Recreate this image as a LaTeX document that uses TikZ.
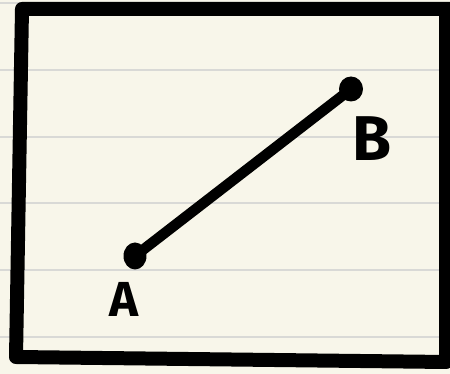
\documentclass[tikz,border=0pt]{standalone}
\usepackage{fontspec}
\setmainfont{Fira Sans}
\usepackage{tikz}
\usetikzlibrary{positioning, calc}
\definecolor{paper}{HTML}{F8F6EA}
\definecolor{rule}{HTML}{D9D9D6}
\tikzset{
    frame/.style={draw=black, line width=0.28cm, line join=round, line cap=round},
    ruling/.style={draw=rule, line width=0.03cm},
    endpoint/.style={ellipse, fill=black, inner sep=0pt, minimum width=0.46cm, minimum height=0.54cm},
    segment/.style={draw=black, line width=0.21cm, line cap=round},
    pointlabel/.style={inner sep=0pt, font=\fontsize{28}{30}\selectfont\bfseries}
}
\usetikzlibrary{shapes.geometric}

\begin{document}
\begin{tikzpicture}[x=0.02cm, y=-0.02cm]
        % Paper
        \fill [paper] (0,0) rectangle (450,374);
        \useasboundingbox (0,0) rectangle (450,374);
        \clip (0,0) rectangle (450,374);
        \foreach \yy in {3,70,137,203,270,337}
            \draw [ruling] (0,\yy) -- (450,\yy);

        % Frame
        \draw [frame] (460,9) -- (22,9) -- (16,357) -- (446,362) -- (446,9);

        % Nodes
        \node (ptA) [endpoint] at (135,256) {};
        \node (ptB) [endpoint, minimum width=0.48cm, minimum height=0.5cm] at (351,89) {};
        \node (labA) [pointlabel] at (124,299) {A};
        \node (labB) [pointlabel, font=\fontsize{36}{38}\selectfont\bfseries] at (372,139) {B};

        % Connections
        \draw [segment] (ptA.center) -- (ptB.center);
    \end{tikzpicture}
\end{document}
